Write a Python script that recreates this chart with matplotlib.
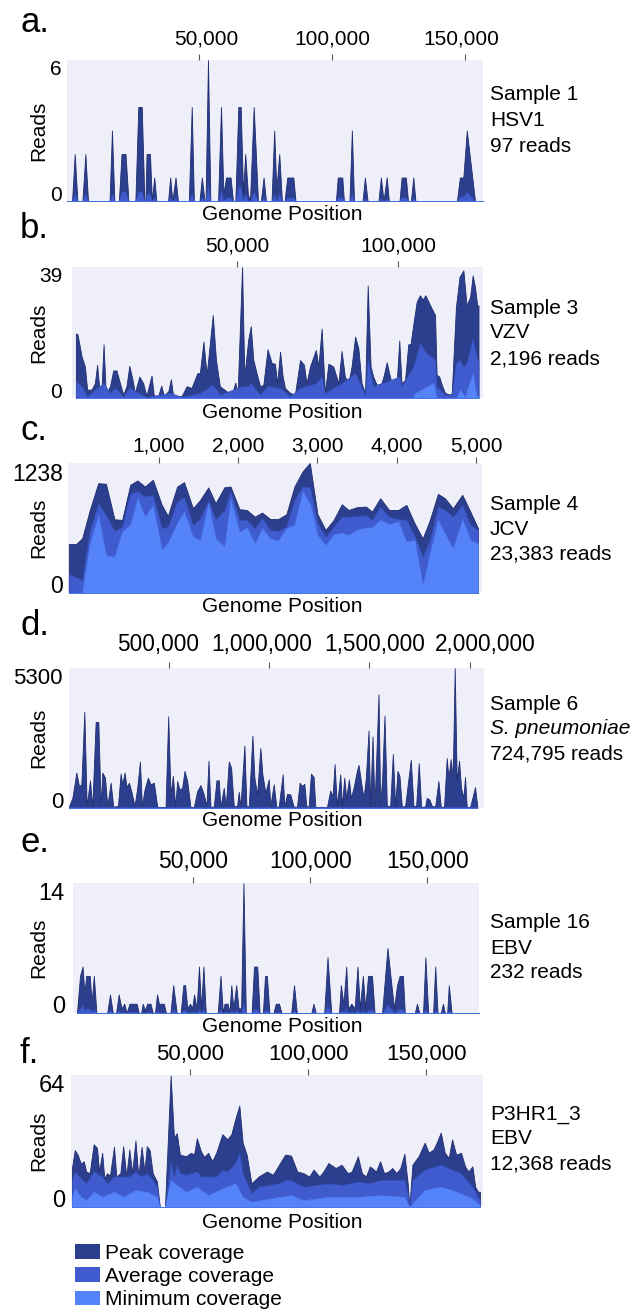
"""
coverage_panels.py

Six stacked read-coverage panels (peak / average / minimum coverage
along the genome), one per sample, with a shared legend at the bottom.
Figure saved to out.png (634 x 1310 px).
"""

import matplotlib.pyplot as plt
from matplotlib.patches import Patch
from matplotlib.transforms import ScaledTranslation

plt.rcParams["font.family"] = ["Liberation Sans", "DejaVu Sans"]

# ----------------------------
# Data (positions in kb unless noted, values in reads)
# ----------------------------

# a. Sample 1, HSV1
hsv1_pos = [0.4, 2.3, 3.3, 4.3, 6.2, 7.3, 8.3, 16.4, 17.3, 18.2,
            19.9, 20.9, 22.4, 23.5, 26.1, 27.2, 28.5, 29.5, 29.9, 30.3,
            31.6, 32.3, 33.2, 34.0, 38.4, 39.2, 40.0, 41.2, 42.1, 46.2,
            47.3, 48.1, 50.2, 51.1, 52.1, 52.5, 53.4, 54.3, 57.2, 58.3,
            59.2, 60.2, 61.9, 62.8, 63.7, 64.8, 65.7, 66.6, 67.4, 68.4,
            69.2, 70.6, 72.2, 73.3, 74.3, 75.2, 77.3, 78.3, 79.1, 80.2,
            81.2, 82.2, 83.2, 85.5, 86.3, 101.5, 102.2, 103.9, 104.5, 106.6,
            107.5, 108.3, 111.5, 112.4, 113.4, 117.5, 118.4, 119.4, 120.6, 121.4,
            125.4, 126.2, 127.8, 128.6, 129.7, 130.6, 131.4, 147.0, 148.1, 149.4,
            150.7, 153.8, 156.8]
hsv1_peak = [0, 0, 2, 0, 0, 2, 0, 0, 3, 0,
             0, 2, 2, 0, 0, 4, 4, 0, 0, 2,
             2, 0, 1, 0, 0, 1, 0, 1, 0, 0,
             4, 0, 0, 1, 0, 0, 6, 0, 0, 4,
             0.3, 1, 1, 0, 0, 4, 4, 0.3, 2, 0.3,
             0, 4, 0, 0, 1, 0, 0, 3, 0.5, 2,
             0, 0, 1, 1, 0, 0, 1, 1, 0, 0,
             3, 0, 0, 1, 0, 0, 1, 0, 1, 0,
             0, 1, 1, 0, 0, 1, 0, 0, 1, 1,
             3, 0, 0]
hsv1_avg = [0, 0, .3, 0, 0, .3, 0, 0, .3, 0,
            0, .4, .4, 0, 0, .4, .4, 0, 0, .3,
            .3, 0, .15, 0, 0, .15, 0, .15, 0, 0,
            .3, 0, 0, .15, 0, 0, .7, 0, 0, .5,
            0, .15, .15, 0, 0, .6, .6, 0, .3, 0,
            0, .4, 0, 0, .15, 0, 0, .3, 0, .3,
            0, 0, .15, .15, 0, 0, .15, .15, 0, 0,
            .3, 0, 0, .1, 0, 0, .1, 0, .1, 0,
            0, .15, .15, 0, 0, .15, 0, 0, .2, .2,
            .4, 0, 0]
hsv1_min_pos = [0.4, 156.8]
hsv1_min = [0, 0]

# b. Sample 3, VZV
vzv_pos = [0.0, 0.5, 1.8, 2.8, 3.5, 4.9, 5.9, 6.6, 7.3, 8.0,
           8.6, 9.3, 10.6, 11.6, 12.6, 13.7, 14.7, 15.7, 16.6, 17.6,
           18.3, 19.7, 20.9, 21.9, 23.5, 24.2, 25.6, 26.5, 27.3, 28.7,
           29.5, 30.2, 32.8, 34.4, 35.9, 37.7, 38.5, 39.6, 40.6, 42.5,
           43.5, 44.7, 46.8, 48.4, 49.5, 50.2, 51.6, 52.3, 53.5, 54.3,
           55.1, 56.1, 57.2, 58.2, 59.5, 60.8, 61.8, 62.5, 63.4, 64.2,
           64.9, 66.5, 68.0, 69.6, 70.8, 71.6, 72.7, 74.5, 75.3, 76.3,
           77.3, 78.4, 79.9, 81.5, 82.5, 83.5, 84.6, 85.6, 86.7, 87.7,
           88.7, 89.8, 90.6, 91.5, 92.3, 93.4, 94.9, 95.5, 96.5, 97.5,
           98.6, 99.6, 100.4, 101.1, 102.2, 103.2, 103.9, 104.8, 105.8, 106.8,
           107.7, 108.5, 109.4, 110.5, 111.5, 112.0, 112.8, 113.6, 114.6, 116.2,
           116.7, 118.0, 119.1, 120.3, 121.3, 122.4, 123.2, 123.9, 124.6, 125.0]
vzv_peak = [19.2, 19, 12.3, 9.4, 2.5, 2.5, 4.4, 9.9, 2.5, 3.5,
            16, 1, 3.5, 8.2, 8.2, 4.4, 1, 3.5, 9.6, 5.4,
            1.5, 6.4, 4.4, 0.7, 6.7, 0.7, 0.7, 3.7, 0.7, 2,
            5.6, 0.5, 0.5, 3.5, 3, 7.4, 7.4, 16.8, 6.9, 24.7,
            11.3, 3.5, 2, 1, 4.6, 1, 39, 6.4, 17.3, 21.4,
            11.3, 7.4, 3.5, 3.9, 14.5, 10.4, 10.2, 4.4, 13.8, 6.4,
            3, 1.5, 1, 11.3, 9.9, 4.4, 9.4, 14.3, 9.4, 20.7,
            1.5, 10.2, 9.4, 4.4, 14, 6.4, 4.4, 9.4, 18.3, 14.8,
            4.4, 1.5, 33.5, 9.4, 6.4, 3.9, 4.4, 6.4, 10.6, 6.4,
            2.5, 4.4, 17.1, 4.4, 5.4, 16, 16, 22.2, 28.6, 30.6,
            29.3, 30.6, 28.8, 26.6, 24.7, 6.9, 6.4, 3.9, 1.5, 1,
            1.5, 27.1, 36, 38, 27.6, 30.1, 36.5, 33.1, 27.6, 27.6]
vzv_avg_pos = [0.0, 1.8, 3.5, 6.6, 8.6, 10.6, 12.1, 14.7, 16.6, 21.9,
               29.5, 32.8, 38.5, 42.5, 44.7, 51.6, 53.5, 54.3, 57.2, 59.5,
               63.4, 66.5, 69.6, 74.5, 76.3, 77.3, 82.5, 86.7, 89.8, 90.6,
               92.3, 96.5, 100.4, 101.1, 104.8, 106.8, 108.9, 111.5, 112.0, 114.6,
               116.7, 118.0, 119.1, 120.3, 121.3, 123.2, 124.6, 125.0]
vzv_avg = [4.9, 3.5, 0.5, 3.0, 4.4, 1.5, 3.0, 0.5, 3.0, 0.3,
           1.5, 0.3, 1.5, 3.9, 1.0, 3.5, 3.5, 4.4, 1.0, 3.5,
           3.0, 0.5, 3.0, 4.4, 6.4, 1.5, 4.4, 7.4, 1.0, 11.4,
           3.5, 4.9, 6.4, 3.5, 9.4, 16.3, 13.3, 11.4, 3.5, 1.0,
           1.0, 10.4, 11.4, 9.4, 10.4, 17.8, 11.4, 11.4]
vzv_min_pos = [0.0, 104.8, 105.3, 111.0, 112.0, 118.2, 119.3, 120.8, 123.2, 124.4, 125.0]
vzv_min = [0, 0, 1.5, 4.4, 0, 0, 2.5, 0.3, 7.4, 0.5, 0.5]

# c. Sample 4, JCV (positions in bp)
jcv_pos = [-138, -47, 30, 127, 234, 331, 438, 535, 637, 729,
           821, 923, 1035, 1112, 1229, 1316, 1428, 1520, 1622, 1714,
           1826, 1903, 2015, 2107, 2209, 2301, 2403, 2505, 2607, 2709,
           2811, 2903, 3000, 3102, 3204, 3306, 3393, 3495, 3612, 3689,
           3791, 3903, 4020, 4122, 4225, 4327, 4418, 4520, 4607, 4709,
           4827, 4929, 5026]
jcv_peak = [466, 466, 520, 791, 1046, 1040, 702, 696, 1030, 1072,
            1014, 1078, 839, 734, 1014, 1056, 807, 887, 1005, 855,
            1008, 1014, 798, 791, 727, 766, 705, 705, 750, 1014,
            1158, 1238, 750, 600, 696, 845, 791, 817, 823, 775,
            903, 791, 791, 839, 664, 520, 696, 944, 903, 807,
            935, 775, 616]
jcv_avg = [179, 150, 121, 600, 855, 743, 590, 632, 944, 973,
           919, 935, 616, 632, 871, 912, 648, 711, 887, 702,
           791, 967, 696, 696, 616, 711, 600, 590, 632, 887,
           1014, 1008, 664, 536, 632, 727, 727, 734, 743, 696,
           817, 727, 705, 696, 542, 345, 504, 823, 791, 727,
           839, 648, 600]
jcv_min = [0, 0, 0, 472, 743, 360, 345, 584, 648, 903,
           727, 839, 408, 479, 664, 775, 536, 504, 855, 520,
           440, 887, 584, 625, 472, 616, 520, 498, 616, 648,
           967, 855, 552, 456, 558, 574, 552, 600, 625, 625,
           696, 657, 680, 488, 504, 73, 376, 696, 568, 424,
           702, 504, 472]

# d. Sample 6, S. pneumoniae
spn_pos = [4.2, 20.7, 40.6, 53.9, 65.5, 80.4, 92.0, 108.6, 120.2, 136.8,
           150.1, 161.7, 170.0, 183.3, 194.9, 211.4, 224.7, 247.9, 261.2, 269.5,
           281.1, 291.0, 302.6, 314.3, 330.8, 344.1, 357.4, 367.3, 380.6, 397.2,
           410.4, 427.0, 443.6, 460.2, 485.1, 498.3, 509.9, 521.5, 533.2, 543.1,
           554.7, 568.0, 579.6, 592.9, 609.4, 626.0, 642.6, 659.2, 675.8, 689.0,
           699.0, 708.9, 725.5, 738.8, 750.4, 758.7, 775.3, 785.2, 800.1, 811.7,
           825.0, 841.6, 849.9, 858.2, 878.1, 888.0, 899.6, 917.9, 927.8, 941.1,
           957.7, 967.6, 982.6, 999.1, 1007.4, 1024.0, 1037.3, 1048.9, 1068.8, 1077.1,
           1090.3, 1106.9, 1123.5, 1140.1, 1153.4, 1165.0, 1176.6, 1186.5, 1198.1, 1209.7,
           1223.0, 1231.3, 1247.9, 1259.5, 1272.8, 1289.3, 1305.9, 1317.5, 1327.5, 1339.1,
           1355.7, 1364.0, 1375.6, 1385.5, 1398.8, 1408.7, 1422.0, 1438.6, 1446.9, 1463.5,
           1471.8, 1483.4, 1496.6, 1504.9, 1516.5, 1526.5, 1546.4, 1554.7, 1564.6, 1576.2,
           1587.8, 1604.4, 1617.7, 1629.3, 1640.9, 1650.8, 1662.5, 1679.0, 1707.2, 1720.5,
           1733.8, 1747.0, 1758.7, 1778.5, 1786.8, 1800.1, 1811.7, 1828.3, 1844.9, 1856.5,
           1873.0, 1886.3, 1894.6, 1906.2, 1916.2, 1926.1, 1936.1, 1947.7, 1957.6, 1969.2,
           1977.5, 1985.8, 2002.4, 2027.3, 2038.9]
spn_peak = [64, 383, 1341, 830, 894, 3639, 80, 1047, 50, 3256,
            3256, 80, 1341, 1149, 80, 958, 50, 80, 1303, 894,
            1341, 792, 958, 639, 80, 766, 1762, 80, 702, 1149,
            894, 958, 50, 40, 40, 3473, 511, 1213, 80, 1022,
            702, 766, 1405, 1022, 30, 30, 639, 868, 511, 80,
            1788, 50, 50, 1047, 1047, 50, 766, 50, 1762, 1532,
            80, 80, 613, 50, 2362, 80, 50, 2733, 1149, 511,
            2273, 1277, 575, 1085, 80, 894, 50, 50, 1277, 50,
            536, 511, 50, 50, 958, 830, 919, 80, 50, 1303,
            1175, 50, 30, 50, 30, 30, 664, 447, 1660, 80,
            1277, 80, 1149, 383, 1085, 383, 766, 1405, 1635, 766,
            383, 1149, 2937, 80, 2707, 80, 4303, 80, 1149, 3499,
            80, 80, 2043, 80, 1405, 1213, 50, 80, 1826, 80,
            80, 1698, 50, 50, 383, 319, 80, 50, 1022, 50,
            50, 1890, 1149, 1852, 1149, 5300, 1022, 1788, 766, 383,
            1175, 50, 30, 792, 30]
spn_avg_pos = [4.2, 2038.9]
spn_avg = [30, 30]
spn_min_pos = [4.2, 2038.9]
spn_min = [0, 0]

# e. Sample 16, EBV
ebv16_pos = [0.4, 1.7, 2.8, 3.6, 4.3, 5.9, 6.6, 7.6, 8.7, 13.3,
             14.5, 15.7, 17.1, 18.2, 19.4, 20.6, 21.6, 22.8, 25.9, 26.8,
             27.8, 28.5, 29.4, 30.4, 31.8, 32.8, 33.7, 34.6, 35.4, 37.5,
             38.4, 40.3, 41.5, 43.0, 44.7, 45.8, 46.6, 47.5, 48.7, 49.6,
             50.4, 51.5, 52.5, 53.4, 54.4, 55.4, 60.5, 61.7, 62.7, 63.4,
             64.8, 65.5, 66.3, 67.2, 68.4, 69.4, 70.5, 71.5, 72.5, 75.0,
             76.0, 77.4, 78.4, 79.8, 80.7, 81.5, 82.6, 84.3, 85.3, 86.7,
             87.7, 91.9, 93.1, 94.3, 100.5, 101.4, 102.4, 106.0, 107.4, 109.0,
             112.3, 113.1, 114.2, 115.4, 116.2, 117.6, 119.0, 120.2, 121.2, 122.5,
             123.5, 124.7, 126.4, 127.5, 130.7, 133.0, 134.7, 135.8, 137.1, 138.2,
             139.6, 140.4, 144.7, 145.6, 146.6, 148.2, 149.2, 150.4, 152.5, 153.4,
             154.4, 155.8, 156.7, 157.5, 158.5, 159.2, 160.4, 172.0]
ebv16_peak = [0, 4, 5, 2, 4, 4, 1, 4, 0, 0,
              2, 0, 0, 2, 0.5, 1, 0, 1, 1, 0,
              0, 1, 0.3, 1, 1, 0, 0, 2, 1, 1,
              0, 0, 3, 0, 0, 3, 3, 0.5, 1, 0.5,
              2, 0.5, 5, 0.5, 5, 0, 0, 4, 0, 1,
              1, 0, 3, 0.5, 3, 0.5, 0.5, 14, 0, 0,
              5, 5, 0, 0, 4, 4, 0, 0, 1, 1,
              0, 0, 3, 0, 0, 1, 0, 0, 6, 0,
              0, 3, 1, 5, 0.5, 1, 0.5, 5, 0.5, 4,
              0.5, 4, 4, 0, 0, 7, 3, 0.5, 3, 4,
              4, 0, 0, 1, 0, 0, 6, 0, 0, 5,
              0, 0, 1, 0, 0, 3, 0, 0]
ebv16_avg = [0, 0.5, 0.8, 0.3, 0.5, 0.4, 0.1, 0.4, 0, 0,
             0.3, 0, 0, 0.3, 0, 0.1, 0, 0.1, 0.1, 0,
             0, 0.1, 0, 0.1, 0.1, 0, 0, 0.3, 0.1, 0.1,
             0, 0, 0.4, 0, 0, 0.3, 0.3, 0, 0.1, 0,
             0.2, 0, 0.4, 0, 0.4, 0, 0, 0.4, 0, 0.1,
             0.1, 0, 0.3, 0, 0.3, 0, 0, 1.0, 0, 0,
             0.4, 0.4, 0, 0, 0.3, 0.3, 0, 0, 0.1, 0.1,
             0, 0, 0.3, 0, 0, 0.3, 0, 0, 0.8, 0,
             0, 0.3, 0.1, 0.5, 0, 0.1, 0, 0.4, 0, 0.3,
             0, 0.3, 0.3, 0, 0, 0.9, 0.4, 0, 0.3, 0.4,
             0.4, 0, 0, 0.1, 0, 0, 0.4, 0, 0, 0.3,
             0, 0, 0.1, 0, 0, 0.3, 0, 0]
ebv16_min_pos = [0.4, 172.0]
ebv16_min = [0, 0]

# f. P3HR1_3, EBV
p3hr1_pos = [0.0, 1.2, 2.4, 3.8, 5.0, 6.0, 7.5, 9.2, 10.6, 11.5,
             12.8, 13.7, 14.9, 16.1, 17.8, 18.8, 20.5, 21.7, 23.0, 24.3,
             25.5, 26.9, 28.1, 29.5, 30.7, 31.7, 32.9, 34.2, 36.0, 37.2,
             39.4, 41.8, 43.2, 44.4, 45.7, 48.3, 50.4, 51.7, 52.9, 54.6,
             56.0, 57.7, 59.4, 61.1, 63.7, 65.8, 67.5, 69.2, 70.9, 72.3,
             74.0, 76.0, 79.1, 82.6, 85.1, 87.7, 90.3, 92.8, 95.4, 98.0,
             100.5, 102.3, 104.8, 106.5, 108.6, 111.7, 114.2, 116.8, 118.5, 121.1,
             122.8, 124.5, 126.2, 128.8, 130.5, 132.2, 134.0, 135.7, 137.4, 139.1,
             140.8, 142.2, 142.9, 144.2, 146.8, 149.4, 151.1, 153.1, 154.5, 156.2,
             157.9, 159.6, 161.0, 162.7, 164.8, 166.5, 167.9, 169.6, 170.8, 172.0,
             172.8]
p3hr1_peak = [18.9, 27.6, 25.4, 21.0, 22.2, 17.2, 16.4, 30.4, 28.7, 17.2,
              26.3, 13.9, 16.4, 15.1, 29.2, 14.8, 16.4, 29.5, 14.8, 27.9,
              16.4, 32.3, 14.8, 29.2, 17.2, 29.5, 27.6, 16.4, 12.3, 0,
              0, 63.7, 33.6, 35.8, 25.4, 24.6, 26.3, 25.4, 33.3, 27.1,
              24.3, 26.3, 22.2, 26.3, 35.3, 32.8, 35.3, 42.7, 49.2, 31.2,
              25.4, 11.5, 14.8, 17.2, 15.6, 20.5, 25.4, 24.9, 17.2, 16.4,
              14.8, 18.1, 14.8, 17.2, 21.3, 18.9, 20.5, 16.4, 17.2, 24.6,
              16.4, 14.8, 19.7, 17.2, 22.2, 16.4, 17.2, 18.9, 16.4, 18.9,
              25.8, 11.5, 0, 20.5, 24.6, 31.2, 26.3, 27.9, 31.2, 36.1,
              26.3, 23.8, 32.8, 25.4, 26.3, 19.7, 17.2, 19.7, 9.8, 7.4,
              7.4]
p3hr1_avg_pos = [0.0, 1.2, 3.8, 6.0, 9.2, 12.8, 14.9, 17.8, 21.7, 24.3,
                 26.9, 29.5, 31.7, 34.2, 36.0, 37.2, 39.4, 41.8, 43.2, 44.4,
                 45.7, 48.3, 50.4, 52.9, 54.6, 57.7, 61.1, 63.7, 65.8, 69.2,
                 70.9, 72.3, 76.0, 79.1, 87.7, 90.3, 92.8, 98.0, 108.6, 114.2,
                 121.1, 126.2, 130.5, 140.8, 142.2, 142.9, 144.2, 149.4, 156.2, 161.0,
                 164.8, 169.6, 172.8]
p3hr1_avg = [13.1, 17.2, 13.9, 11.5, 17.2, 14.8, 11.5, 14.8, 14.8, 14.8,
             17.2, 14.8, 16.4, 13.1, 9.8, 0, 0, 22.2, 14.8, 20.5,
             16.4, 15.6, 16.4, 17.2, 14.8, 14.8, 14.8, 18.1, 17.2, 21.3,
             26.3, 16.4, 6.6, 9.8, 11.5, 13.1, 13.1, 9.8, 11.5, 10.7,
             12.3, 11.5, 13.1, 13.1, 6.6, 0, 13.1, 18.1, 20.5, 18.1,
             16.4, 9.8, 3.3]
p3hr1_min_pos = [0.0, 1.2, 3.8, 6.0, 9.2, 12.8, 17.8, 21.7, 26.9, 31.7,
                 36.0, 37.2, 39.4, 41.8, 44.4, 48.3, 52.9, 57.7, 63.7, 69.2,
                 72.3, 76.0, 87.7, 92.8, 98.0, 108.6, 121.1, 130.5, 140.8, 142.9,
                 149.4, 156.2, 161.0, 169.6, 172.8]
p3hr1_min = [4.9, 9.0, 4.9, 3.3, 7.4, 4.9, 7.4, 4.9, 8.2, 7.4,
             4.9, 0, 0, 13.1, 10.7, 7.4, 9.8, 5.7, 9.0, 11.5,
             4.9, 2.5, 4.9, 5.7, 3.3, 4.9, 4.9, 5.7, 4.9, 0,
             8.2, 9.8, 8.2, 4.1, 0.8]

letters = ["a.", "b.", "c.", "d.", "e.", "f."]
sample_names = ["Sample 1", "Sample 3", "Sample 4", "Sample 6", "Sample 16", "P3HR1_3"]
organisms = ["HSV1", "VZV", "JCV", "S. pneumoniae", "EBV", "EBV"]
read_totals = ["97 reads", "2,196 reads", "23,383 reads", "724,795 reads",
               "232 reads", "12,368 reads"]
y_max = [6, 39, 1238, 5300, 14, 64]
x_ticks = [[50, 100, 150], [50, 100], [1000, 2000, 3000, 4000, 5000],
           [500, 1000, 1500, 2000], [50, 100, 150], [50, 100, 150]]
x_unit = [1000, 1000, 1, 1000, 1000, 1000]   # multiply tick value to get bp
x_limits = [(0.4, 156.8), (-1.2, 126.4), (-148, 5076), (4.0, 2072.0),
            (-1.3, 172.1), (-0.4, 174.1)]
legend_labels = ["Peak coverage", "Average coverage", "Minimum coverage"]

# ----------------------------
# Style / layout (pixels of a 634 x 1310 canvas)
# ----------------------------
W, H = 634, 1310
PEAK_C, AVG_C, MIN_C, BG_C = "#2c3f8e", "#3f5bce", "#5584fa", "#efeffa"
PEAK_E, AVG_E, MIN_E = "#1f2d6e", "#3550b8", "#4d7bef"

# (left, top, right, bottom) of each plot area
boxes = [(67, 60, 483, 201), (72, 267, 483, 398), (68, 463, 482, 593),
         (69, 668, 484, 808), (73, 883, 479, 1013), (71, 1075, 483, 1207)]
letter_base = [32, 238, 440, 635, 852, 1063]
text_center = [(93, 118, 144), (306, 331, 357), (502, 527, 552),
               (702, 727, 752), (921, 946, 970), (1112, 1137, 1162)]
xlabel_center = [215, 412, 606, 820, 1027, 1223]
xtick_size = [15, 15, 15, 16.3, 16.5, 16]
xtick_pad = [4, 4.5, 1.5, 5, 3.5, 3]
# horizontal nudge (px) of individual top tick labels, as in the original layout
xtick_shift = [[7, 0, -4], [0, 0], [0, 0, 0, 0, 0], [-10, -7, 5, 16],
               [0, 0, 0], [0, 0, 0]]
ytick_size = [15, 15, 16.5, 16, 17, 17]
ytick_pad = [3.6, 7, 3.6, 4.3, 5.8, 4.3]


def fig_rect(box):
    l, t, r, b = box
    return [l / W, 1 - b / H, (r - l) / W, (b - t) / H]


def draw_panel(fig, i, series):
    ax = fig.add_axes(fig_rect(boxes[i]))
    ax.set_facecolor(BG_C)
    for s in ax.spines.values():
        s.set_visible(False)

    (px, pk), (ax_, av), (mx, mn) = series
    ax.fill_between(px, pk, facecolor=PEAK_C, edgecolor=PEAK_E, lw=0.6)
    ax.fill_between(ax_, av, facecolor=AVG_C, edgecolor=AVG_E, lw=0.5)
    ax.fill_between(mx, mn, facecolor=MIN_C, edgecolor=MIN_E, lw=0.5)

    ax.set_xlim(*x_limits[i])
    ax.set_ylim(0, y_max[i])

    # top x axis with comma-separated genome positions
    unit = x_unit[i]
    ax.set_xticks(x_ticks[i])
    ax.set_xticklabels([f"{int(round(v * unit)):,}" for v in x_ticks[i]])
    ax.xaxis.tick_top()
    ax.tick_params(axis="x", length=4, width=0.8, color="#555555",
                   pad=xtick_pad[i], labelsize=xtick_size[i])
    for lab, dx in zip(ax.get_xticklabels(), xtick_shift[i]):
        if dx:
            lab.set_transform(lab.get_transform()
                              + ScaledTranslation(dx / 100, 0, fig.dpi_scale_trans))

    ax.set_yticks([0, y_max[i]])
    ax.set_yticklabels(["0", str(y_max[i])])
    ax.tick_params(axis="y", length=0, pad=ytick_pad[i], labelsize=ytick_size[i])
    for lab, va in zip(ax.get_yticklabels(), ["baseline", "top"]):
        lab.set_va(va)

    l, t, r, b = boxes[i]
    fig.text(39 / W, 1 - (t + b) / 2 / H, "Reads", rotation=90,
             ha="center", va="center", fontsize=15)
    fig.text(282 / W, 1 - xlabel_center[i] / H, "Genome Position",
             ha="center", va="center", fontsize=15)
    fig.text(20 / W, 1 - letter_base[i] / H, letters[i], fontsize=25,
             va="baseline")

    lines = [sample_names[i], organisms[i], read_totals[i]]
    for k, (line, yc) in enumerate(zip(lines, text_center[i])):
        style = "italic" if (k == 1 and line.startswith("S. ")) else "normal"
        fig.text(490 / W, 1 - (yc + 7.5) / H, line, fontsize=15,
                 va="baseline", style=style)
    return ax


def main():
    fig = plt.figure(figsize=(W / 100, H / 100), dpi=100)

    panels = [
        ((hsv1_pos, hsv1_peak), (hsv1_pos, hsv1_avg), (hsv1_min_pos, hsv1_min)),
        ((vzv_pos, vzv_peak), (vzv_avg_pos, vzv_avg), (vzv_min_pos, vzv_min)),
        ((jcv_pos, jcv_peak), (jcv_pos, jcv_avg), (jcv_pos, jcv_min)),
        ((spn_pos, spn_peak), (spn_avg_pos, spn_avg), (spn_min_pos, spn_min)),
        ((ebv16_pos, ebv16_peak), (ebv16_pos, ebv16_avg), (ebv16_min_pos, ebv16_min)),
        ((p3hr1_pos, p3hr1_peak), (p3hr1_avg_pos, p3hr1_avg), (p3hr1_min_pos, p3hr1_min)),
    ]
    for i, series in enumerate(panels):
        for xs, ys in series:
            assert len(xs) == len(ys), (i, len(xs), len(ys))
        draw_panel(fig, i, series)

    handles = [Patch(facecolor=c, edgecolor="none") for c in (PEAK_C, AVG_C, MIN_C)]
    fig.legend(handles, legend_labels, loc="upper left",
               bbox_to_anchor=(75 / W, 1 - 1244 / H), frameon=False,
               fontsize=15, handlelength=1.2, handleheight=0.72,
               handletextpad=0.25, labelspacing=0.2, borderpad=0,
               borderaxespad=0)

    fig.savefig("out.png", dpi=100)
    plt.close("all")


if __name__ == "__main__":
    main()
